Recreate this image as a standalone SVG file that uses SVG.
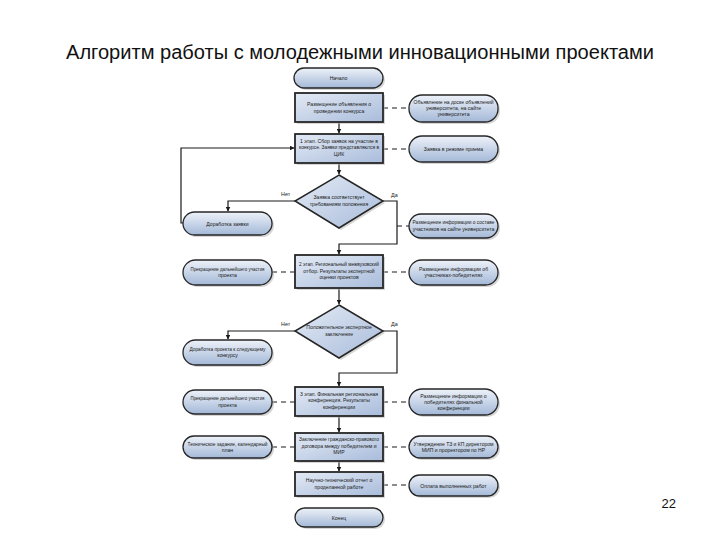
<svg xmlns="http://www.w3.org/2000/svg" width="720" height="540" viewBox="0 0 720 540">
<style>
.title{font-family:"Liberation Sans",Arial,sans-serif;font-size:20px;fill:#111}
.pg{font-family:"Liberation Sans",Arial,sans-serif;font-size:13px;fill:#111}
.t{font-family:"Liberation Sans",Arial,sans-serif;font-size:5.1px;fill:#1a1a1a;text-anchor:middle}
.box{fill:url(#gBox);stroke:#262626;stroke-width:1.8}
.pill{fill:url(#gPill);stroke:#262626;stroke-width:1.3}
.dia{fill:url(#gBox);stroke:#262626;stroke-width:1.5}
.sh{fill:#b5b5b5;opacity:0.55}
.ln{fill:none;stroke:#1a1a1a;stroke-width:1.2}
.ar{marker-end:url(#arr)}
.ds{fill:none;stroke:#1a1a1a;stroke-width:1;stroke-dasharray:5 4}
.lbl{font-family:"Liberation Sans",Arial,sans-serif;font-size:5.4px;fill:#1a1a1a}
</style>
<defs>
<linearGradient id="gBox" x1="0" y1="0" x2="1" y2="1">
<stop offset="0" stop-color="#e3eaf5"/>
<stop offset="1" stop-color="#a9bcdb"/>
</linearGradient>
<linearGradient id="gPill" x1="0" y1="0" x2="0" y2="1">
<stop offset="0" stop-color="#eef2f9"/>
<stop offset="1" stop-color="#a3b8d7"/>
</linearGradient>
<marker id="arr" viewBox="0 0 10 10" refX="9" refY="5" markerWidth="5" markerHeight="5" markerUnits="userSpaceOnUse" orient="auto">
<path d="M0,0 L10,5 L0,10 z" fill="#1a1a1a"/>
</marker>
</defs>
<rect width="720" height="540" fill="#ffffff"/>
<text class="title" x="360" y="59" text-anchor="middle" textLength="588" lengthAdjust="spacingAndGlyphs">Алгоритм работы с молодежными инновационными проектами</text>
<text class="pg" x="676" y="508" text-anchor="end">22</text>

<g id="connectors">
<path class="ln ar" d="M339,122 V133"/>
<path class="ln ar" d="M184,223 H181 V148 H294"/>
<path class="ln ar" d="M339,163 V174"/>
<path class="ln ar" d="M295,201 H228 V211"/>
<path class="ln ar" d="M383,201 H397 V244 H339 V254"/>
<path class="ln ar" d="M339,288 V304"/>
<path class="ln ar" d="M295,331 H228 V339"/>
<path class="ln ar" d="M383,331 H397 V373 H339 V386"/>
<path class="ln ar" d="M339,416 V432"/>
<path class="ln ar" d="M339,461 V471"/>
<path class="ds" d="M383,108 H409"/>
<path class="ds" d="M383,149 H409"/>
<path class="ds" d="M397,226 H409"/>
<path class="ds" d="M272,272 H295"/>
<path class="ds" d="M383,272 H409"/>
<path class="ds" d="M272,402 H295"/>
<path class="ds" d="M383,402 H409"/>
<path class="ds" d="M272,447 H295"/>
<path class="ds" d="M383,447 H409"/>
<path class="ds" d="M383,485 H409"/>
<text class="lbl" x="281" y="196">Нет</text>
<text class="lbl" x="391" y="197">Да</text>
<text class="lbl" x="281" y="326">Нет</text>
<text class="lbl" x="391" y="326">Да</text>
</g>

<g id="start">
<rect class="sh" x="296" y="70" width="89" height="20" rx="10"/>
<rect class="pill" x="294" y="68" width="89" height="20" rx="10"/>
<text class="t" x="338.5" y="80">Начало</text>
</g>
<g id="post">
<rect class="sh" x="297" y="95" width="88" height="29"/>
<rect class="box" x="295" y="93" width="88" height="29"/>
<text class="t" x="339" y="106">Размещение объявления о</text>
<text class="t" x="339" y="113">проведении конкурса</text>
</g>
<g id="post-info">
<rect class="sh" x="411" y="97" width="89" height="27" rx="13"/>
<rect class="pill" x="409" y="95" width="89" height="27" rx="13"/>
<text class="t" x="453.5" y="103.5" textLength="80" lengthAdjust="spacingAndGlyphs">Объявление на доске объявлений</text>
<text class="t" x="453.5" y="109.5">университета, на сайте</text>
<text class="t" x="453.5" y="115.5">университета</text>
</g>
<g id="stage1">
<rect class="sh" x="297" y="136" width="88" height="29"/>
<rect class="box" x="295" y="134" width="88" height="29"/>
<text class="t" x="339" y="142.5">1 этап. Сбор заявок на участие в</text>
<text class="t" x="339" y="149" textLength="80" lengthAdjust="spacingAndGlyphs">конкурсе. Заявки представляются в</text>
<text class="t" x="339" y="155.5">ЦИК</text>
</g>
<g id="stage1-info">
<rect class="sh" x="411" y="138" width="89" height="26" rx="13"/>
<rect class="pill" x="409" y="136" width="89" height="26" rx="13"/>
<text class="t" x="453.5" y="151">Заявка в режиме приема</text>
</g>
<g id="decision1">
<polygon class="sh" points="341,177 385,203 341,230 297,203"/>
<polygon class="dia" points="339,175 383,201 339,228 295,201"/>
<text class="t" x="339" y="199">Заявка соответствует</text>
<text class="t" x="339" y="205.5">требованиям положения</text>
</g>
<g id="rework-application">
<rect class="sh" x="185" y="214" width="89" height="23" rx="11.5"/>
<rect class="pill" x="183" y="212" width="89" height="23" rx="11.5"/>
<text class="t" x="227.5" y="225.5">Доработка заявки</text>
</g>
<g id="decision1-info">
<rect class="sh" x="411" y="216" width="89" height="24" rx="12"/>
<rect class="pill" x="409" y="214" width="89" height="24" rx="12"/>
<text class="t" x="453.5" y="224" textLength="82" lengthAdjust="spacingAndGlyphs">Размещение информации о составе</text>
<text class="t" x="453.5" y="230.5">участников на сайте университета</text>
</g>
<g id="stage2">
<rect class="sh" x="297" y="257" width="88" height="33"/>
<rect class="box" x="295" y="255" width="88" height="33"/>
<text class="t" x="339" y="266" textLength="80" lengthAdjust="spacingAndGlyphs">2 этап. Региональный межвузовский</text>
<text class="t" x="339" y="272.5">отбор. Результаты экспертной</text>
<text class="t" x="339" y="279">оценки проектов</text>
</g>
<g id="stage2-stop">
<rect class="sh" x="185" y="262" width="89" height="25" rx="12.5"/>
<rect class="pill" x="183" y="260" width="89" height="25" rx="12.5"/>
<text class="t" x="227.5" y="270.5" textLength="74" lengthAdjust="spacingAndGlyphs">Прекращение дальнейшего участия</text>
<text class="t" x="227.5" y="277">проекта</text>
</g>
<g id="stage2-info">
<rect class="sh" x="411" y="262" width="89" height="25" rx="12.5"/>
<rect class="pill" x="409" y="260" width="89" height="25" rx="12.5"/>
<text class="t" x="453.5" y="270.5">Размещение информации об</text>
<text class="t" x="453.5" y="277">участниках-победителях</text>
</g>
<g id="decision2">
<polygon class="sh" points="341,307 385,333 341,360 297,333"/>
<polygon class="dia" points="339,305 383,331 339,358 295,331"/>
<text class="t" x="339" y="329">Положительное экспертное</text>
<text class="t" x="339" y="335.5">заключение</text>
</g>
<g id="rework-project">
<rect class="sh" x="185" y="342" width="89" height="25" rx="12.5"/>
<rect class="pill" x="183" y="340" width="89" height="25" rx="12.5"/>
<text class="t" x="227.5" y="350.5" textLength="76" lengthAdjust="spacingAndGlyphs">Доработка проекта к следующему</text>
<text class="t" x="227.5" y="357">конкурсу</text>
</g>
<g id="stage3">
<rect class="sh" x="297" y="389" width="88" height="29"/>
<rect class="box" x="295" y="387" width="88" height="29"/>
<text class="t" x="339" y="395.5">3 этап. Финальная региональная</text>
<text class="t" x="339" y="402">конференция. Результаты</text>
<text class="t" x="339" y="408.5">конференции</text>
</g>
<g id="stage3-stop">
<rect class="sh" x="185" y="392" width="89" height="24" rx="12"/>
<rect class="pill" x="183" y="390" width="89" height="24" rx="12"/>
<text class="t" x="227.5" y="400" textLength="74" lengthAdjust="spacingAndGlyphs">Прекращение дальнейшего участия</text>
<text class="t" x="227.5" y="406.5">проекта</text>
</g>
<g id="stage3-info">
<rect class="sh" x="411" y="391" width="89" height="26" rx="13"/>
<rect class="pill" x="409" y="389" width="89" height="26" rx="13"/>
<text class="t" x="453.5" y="397.5">Размещение информации о</text>
<text class="t" x="453.5" y="403.5">победителях финальной</text>
<text class="t" x="453.5" y="409.5">конференции</text>
</g>
<g id="contract">
<rect class="sh" x="297" y="435" width="88" height="28"/>
<rect class="box" x="295" y="433" width="88" height="28"/>
<text class="t" x="339" y="441" textLength="80" lengthAdjust="spacingAndGlyphs">Заключение гражданско-правового</text>
<text class="t" x="339" y="447.5">договора между победителем и</text>
<text class="t" x="339" y="454">МИР</text>
</g>
<g id="contract-left">
<rect class="sh" x="185" y="438" width="89" height="22" rx="11"/>
<rect class="pill" x="183" y="436" width="89" height="22" rx="11"/>
<text class="t" x="227.5" y="445.5" textLength="80" lengthAdjust="spacingAndGlyphs">Техническое задание, календарный</text>
<text class="t" x="227.5" y="452">план</text>
</g>
<g id="contract-right">
<rect class="sh" x="411" y="438" width="89" height="22" rx="11"/>
<rect class="pill" x="409" y="436" width="89" height="22" rx="11"/>
<text class="t" x="453.5" y="445.5" textLength="80" lengthAdjust="spacingAndGlyphs">Утверждение ТЗ и КП директором</text>
<text class="t" x="453.5" y="452">МИП и проректором по НР</text>
</g>
<g id="report">
<rect class="sh" x="297" y="474" width="88" height="24"/>
<rect class="box" x="295" y="472" width="88" height="24"/>
<text class="t" x="339" y="482">Научно-технический отчет о</text>
<text class="t" x="339" y="488.5">проделанной работе</text>
</g>
<g id="report-info">
<rect class="sh" x="411" y="477" width="89" height="21" rx="10.5"/>
<rect class="pill" x="409" y="475" width="89" height="21" rx="10.5"/>
<text class="t" x="453.5" y="487.5">Оплата выполненных работ</text>
</g>
<g id="end">
<rect class="sh" x="297" y="510" width="88" height="19" rx="9.5"/>
<rect class="pill" x="295" y="508" width="88" height="19" rx="9.5"/>
<text class="t" x="339" y="519.5">Конец</text>
</g>
</svg>
